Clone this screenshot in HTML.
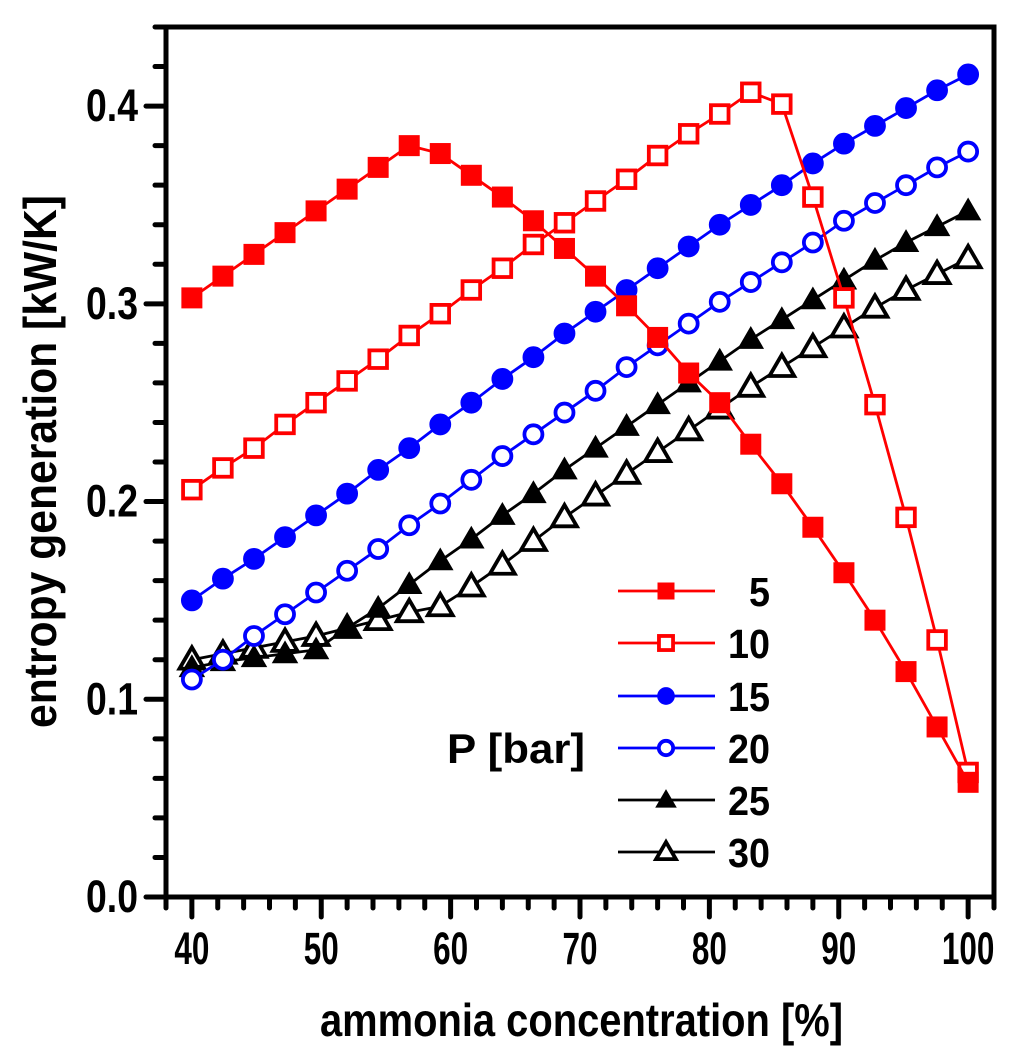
<!DOCTYPE html>
<html><head><meta charset="utf-8"><style>
html,body{margin:0;padding:0;background:#fff;}
svg{display:block;}
text{font-family:"Liberation Sans",Arial,sans-serif;font-weight:bold;fill:#000;}
</style></head><body>
<svg id="chart" width="1024" height="1063" viewBox="0 0 1024 1063" xmlns="http://www.w3.org/2000/svg">
<g id="series"></g>
<g id="legend"></g>
<g id="axes"></g>
</svg>
<script>
const xValues = [40,42.4,44.8,47.2,49.6,52,54.4,56.8,59.2,61.6,64,66.4,68.8,71.2,73.6,76,78.4,80.8,83.2,85.6,88,90.4,92.8,95.2,97.6,100];
const p5  = [0.303,0.314,0.325,0.336,0.347,0.358,0.369,0.380,0.376,0.365,0.354,0.342,0.328,0.314,0.299,0.283,0.265,0.250,0.229,0.209,0.187,0.164,0.140,0.114,0.086,0.058];
const p10 = [0.206,0.217,0.227,0.239,0.250,0.261,0.272,0.284,0.295,0.307,0.318,0.330,0.341,0.352,0.363,0.375,0.386,0.396,0.407,0.401,0.354,0.303,0.249,0.192,0.130,0.063];
const p15 = [0.150,0.161,0.171,0.182,0.193,0.204,0.216,0.227,0.239,0.250,0.262,0.273,0.285,0.296,0.307,0.318,0.329,0.340,0.350,0.360,0.371,0.381,0.390,0.399,0.408,0.416];
const p20 = [0.110,0.120,0.132,0.143,0.154,0.165,0.176,0.188,0.199,0.211,0.223,0.234,0.245,0.256,0.268,0.279,0.290,0.301,0.311,0.321,0.331,0.342,0.351,0.360,0.369,0.377];
const p25 = [0.116,0.119,0.121,0.123,0.125,0.136,0.146,0.158,0.170,0.181,0.193,0.204,0.216,0.227,0.238,0.249,0.260,0.271,0.282,0.292,0.302,0.312,0.322,0.331,0.339,0.347];
const p30 = [0.120,0.123,0.126,0.129,0.132,0.136,0.140,0.144,0.147,0.157,0.168,0.180,0.192,0.203,0.214,0.225,0.236,0.247,0.258,0.268,0.278,0.288,0.298,0.307,0.315,0.323];
const seriesLabels = ["5","10","15","20","25","30"];
const xTicks = [40,50,60,70,80,90,100];
const yTicks = [0.0,0.1,0.2,0.3,0.4];

const NS="http://www.w3.org/2000/svg";
const X0=38,X1=102,Y0=0,Y1=0.44;
const L=166,R=994,T=27,B=897;
function sx(v){return L+(v-X0)/(X1-X0)*(R-L);}
function sy(v){return B-(v-Y0)/(Y1-Y0)*(B-T);}
function mk(tag,attrs,parent){const e=document.createElementNS(NS,tag);for(const k in attrs)e.setAttribute(k,attrs[k]);parent.appendChild(e);return e;}

const gS=document.getElementById('series');
const gA=document.getElementById('axes');
const gL=document.getElementById('legend');
const defs=[
 {d:p5,c:"#ff0000",m:"square",f:true},
 {d:p10,c:"#ff0000",m:"square",f:false},
 {d:p15,c:"#0000ff",m:"circle",f:true},
 {d:p20,c:"#0000ff",m:"circle",f:false},
 {d:p25,c:"#000000",m:"tri",f:true},
 {d:p30,c:"#000000",m:"tri",f:false}
];
function marker(parent,type,filled,c,x,y,s){
  let e;
  if(type==="square"){
    const h=filled?s*0.5:s*0.44;
    e=mk('rect',{x:x-h,y:y-h,width:2*h,height:2*h},parent);
  }else if(type==="circle"){
    e=mk('circle',{cx:x,cy:y,r:filled?s*0.52:s*0.45},parent);
  }else{
    const h=s*0.62;
    e=mk('polygon',{points:`${x},${y-h} ${x-h*1.0},${y+h*0.72} ${x+h*1.0},${y+h*0.72}`},parent);
  }
  e.setAttribute('fill',filled?c:'#fff');
  e.setAttribute('stroke',c);
  e.setAttribute('stroke-width',filled?1:3.8);
  return e;
}
for(let i=defs.length-1;i>=0;i--){
  const s=defs[i];
  const g=mk('g',{},gS);
  
  
  const pts=xValues.map((x,j)=>sx(x)+","+sy(s.d[j])).join(" ");
  const pl=mk('polyline',{points:pts,fill:'none',stroke:s.c,'stroke-width':2.8},g);
  
  
  xValues.forEach((x,j)=>{
    const m=marker(g,s.m,s.f,s.c,sx(x),sy(s.d[j]),20);
    
    
  });
}
const legY=[591,643,696,748,800,852];
defs.forEach((s,i)=>{
  const g=mk('g',{},gL);
  
  
  mk('line',{x1:618,x2:715,y1:legY[i],y2:legY[i],stroke:s.c,'stroke-width':2.8},g);
  marker(g,s.m,s.f,s.c,666,legY[i],16);
  const w=seriesLabels[i].length*21;
  const t=mk('text',{x:770-w,y:legY[i]+15,'font-size':41,textLength:w,lengthAdjust:'spacingAndGlyphs'},g);
  t.textContent=seriesLabels[i];
});
const pt=mk('text',{x:447,y:763,'font-size':42,textLength:138,lengthAdjust:'spacingAndGlyphs'},gL);
pt.textContent="P [bar]";



const fr=mk('rect',{x:L,y:T,width:R-L,height:B-T,fill:'none',stroke:'#000','stroke-width':5},gA);


for(let v=38;v<=102.001;v+=2){
  const major=Math.abs(v%10)<0.01;
  mk('line',{x1:sx(v),x2:sx(v),y1:B,y2:B+(major?20:11),stroke:'#000','stroke-width':5,'stroke-linecap':'round'},gA);
}
xTicks.forEach(v=>{
  const w=String(v).length*17.5;
  const t=mk('text',{x:sx(v)-w/2,y:964,'font-size':45,textLength:w,lengthAdjust:'spacingAndGlyphs'},gA);
  t.textContent=v;
  
  
});
for(let k=0;k<=22;k++){
  const v=k*0.02;
  const major=k%5===0;
  mk('line',{x1:L,x2:L-(major?20:11),y1:sy(v),y2:sy(v),stroke:'#000','stroke-width':5,'stroke-linecap':'round'},gA);
}
yTicks.forEach(v=>{
  const t=mk('text',{x:86,y:sy(v)+15,'font-size':45,textLength:52,lengthAdjust:'spacingAndGlyphs'},gA);
  t.textContent=v.toFixed(1);
  
  
});
const xt=mk('text',{x:320,y:1036,'font-size':46,textLength:523,lengthAdjust:'spacingAndGlyphs'},gA);
xt.textContent="ammonia concentration [%]";


const yt=mk('text',{x:-728,y:56,'font-size':46,textLength:533,lengthAdjust:'spacingAndGlyphs',transform:'rotate(-90)'},gA);
yt.textContent="entropy generation [kW/K]";


</script>
</body></html>
